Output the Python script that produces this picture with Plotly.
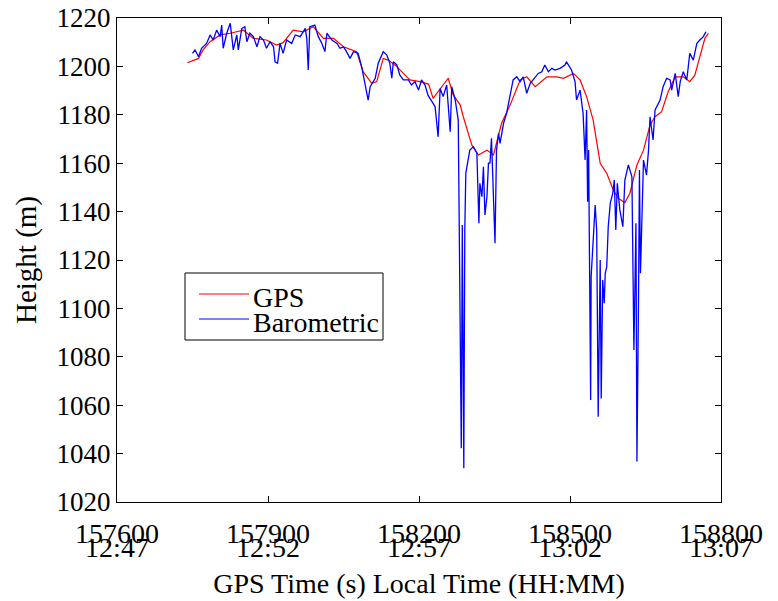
import plotly.graph_objects as go

# ---------------- data ----------------
x_range = [157600, 158800]
y_range = [1020, 1220]

tick_vals = [157600, 157900, 158200, 158500, 158800]
tick_gps = ["157600", "157900", "158200", "158500", "158800"]
tick_local = ["12:47", "12:52", "12:57", "13:02", "13:07"]
y_ticks = [1020, 1040, 1060, 1080, 1100, 1120, 1140, 1160, 1180, 1200, 1220]

gps_t = [157740, 157762, 157771, 157785, 157805, 157825, 157851, 157871, 157897, 157917,
         157930, 157950, 157970, 157990, 158010, 158030, 158050, 158076, 158089, 158106,
         158116, 158129, 158139, 158156, 158169, 158182, 158202, 158219, 158228, 158258,
         158268, 158282, 158288, 158305, 158318, 158335, 158348, 158364, 158381, 158401,
         158414, 158431, 158454, 158474, 158487, 158507, 158520, 158533, 158546, 158560,
         158573, 158586, 158596, 158609, 158619, 158633, 158646, 158659, 158669, 158682,
         158695, 158709, 158725, 158738, 158748, 158758, 158768, 158775]
gps_h = [1201.5, 1203.3, 1206.8, 1210.2, 1213, 1213.7, 1215, 1211.6, 1210.9, 1208.8,
         1209.8, 1215, 1214.3, 1216.4, 1211.6, 1211.6, 1208.1, 1206.1, 1197.8, 1193,
         1193.7, 1203.3, 1202.6, 1199.9, 1197.1, 1194.4, 1193.7, 1192.7, 1186.8, 1195.1,
         1188.2, 1184, 1179.2, 1167.5, 1163.4, 1165.4, 1163.4, 1176.5, 1184, 1194.4,
         1195.7, 1191.6, 1195.7, 1195.7, 1195.1, 1197.1, 1194.4, 1187.5, 1177.8, 1160,
         1155.8, 1148.9, 1145.5, 1143.7, 1147.6, 1159.3, 1165.4, 1175.8, 1179.2, 1181.3,
         1189.5, 1195.7, 1195.7, 1193.7, 1196.4, 1204, 1211.6, 1213.7]

baro_t = [157750, 157755, 157762, 157768, 157778, 157785, 157791, 157798, 157805, 157808,
          157811, 157818, 157825, 157831, 157838, 157841, 157848, 157854, 157858, 157864,
          157871, 157878, 157884, 157891, 157897, 157904, 157911, 157914, 157919, 157924,
          157930, 157937, 157947, 157954, 157964, 157974, 157977, 157980, 157983, 157993,
          158000, 158007, 158013, 158017, 158027, 158037, 158043, 158050, 158056, 158063,
          158070, 158079, 158086, 158093, 158099, 158103, 158113, 158119, 158129, 158136,
          158142, 158146, 158149, 158156, 158162, 158169, 158179, 158185, 158192, 158199,
          158205, 158212, 158218, 158228, 158232, 158238, 158242, 158248, 158255, 158262,
          158265, 158272, 158278, 158284, 158286, 158289, 158291, 158293, 158298, 158301,
          158308, 158315, 158319, 158321, 158325, 158328, 158331, 158335, 158338, 158341,
          158344, 158351, 158354, 158358, 158361, 158368, 158374, 158381, 158387, 158394,
          158401, 158407, 158414, 158421, 158427, 158437, 158444, 158450, 158457, 158464,
          158470, 158480, 158490, 158493, 158503, 158510, 158513, 158520, 158526, 158530,
          158533, 158535, 158537, 158541, 158542, 158546, 158550, 158553, 158556, 158560,
          158562, 158565, 158568, 158570, 158573, 158576, 158580, 158585, 158588, 158591,
          158594, 158599, 158605, 158609, 158616, 158623, 158627, 158631, 158633, 158636,
          158638, 158640, 158646, 158652, 158656, 158659, 158665, 158669, 158679, 158685,
          158692, 158699, 158702, 158709, 158715, 158719, 158725, 158732, 158738, 158745,
          158752, 158758, 158765, 158770]
baro_h = [1205.4, 1206.8, 1204, 1207.5, 1209.5, 1213, 1210.9, 1215, 1212.3, 1217.1,
          1207.5, 1213.7, 1217.8, 1206.8, 1213, 1206.8, 1215.7, 1216.4, 1210.2, 1213.7,
          1212.3, 1208.1, 1212.3, 1210.9, 1207.5, 1210.2, 1208.1, 1201.9, 1201.3, 1209.5,
          1205.4, 1210.9, 1209.5, 1213, 1212.3, 1215.7, 1211.6, 1198.5, 1216.4, 1217.1,
          1212.3, 1209.5, 1206.1, 1213.7, 1210.9, 1209.5, 1207.5, 1208.1, 1206.1, 1203.3,
          1206.1, 1205.4, 1199.9, 1191.6, 1186.1, 1191.6, 1195.1, 1201.3, 1206.1, 1204.7,
          1201.3, 1195.1, 1201.9, 1200.6, 1196.4, 1194.4, 1194.4, 1192.3, 1193.7, 1190.2,
          1194.4, 1192.3, 1188, 1184.7, 1183.3, 1170.9, 1190.9, 1187.5, 1192.3, 1173,
          1191.6, 1186.1, 1177.8, 1042.2, 1134.5, 1033.9, 1132.4, 1155.9, 1161.3, 1165.4,
          1166.8, 1164.1, 1135.2, 1151.7, 1146.2, 1158.5, 1138.6, 1146.2, 1160, 1160,
          1170.3, 1126.9, 1165.4, 1172.3, 1168.2, 1176.5, 1180.6, 1187.5, 1194.4, 1195.7,
          1193.7, 1195.7, 1188.9, 1193, 1194.4, 1197.1, 1197.8, 1200.6, 1197.8, 1199.2,
          1198.5, 1199.2, 1200.6, 1201.9, 1198.5, 1193.7, 1186.1, 1190.2, 1180.6, 1161.3,
          1182, 1144.1, 1165.4, 1062.1, 1113.1, 1126.9, 1142.7, 1132.4, 1055.2, 1120,
          1062.8, 1111.7, 1102.1, 1114.5, 1117.2, 1133.8, 1143.4, 1147.6, 1153, 1132.4,
          1151.7, 1140.7, 1133.8, 1153, 1159.3, 1154.4, 1082.8, 1135.2, 1036.7, 1100.7,
          1157.2, 1114.5, 1161.3, 1155.1, 1165.4, 1179.2, 1169.6, 1182, 1186.1, 1191.6,
          1195.1, 1194.4, 1190.2, 1197.1, 1187.5, 1193.7, 1197.8, 1194.4, 1205.4, 1202.6,
          1209.5, 1210.9, 1212.3, 1214.3]

series_names = ["GPS", "Barometric"]
series_colors = ["#ff0000", "#0000ff"]
x_title = "GPS Time (s) Local Time (HH:MM)"
y_title = "Height (m)"

FAM = "Liberation Serif"
Y_FONT = dict(family=FAM, size=27, color="#000000")
Y_TITLE_FONT = dict(family=FAM, size=29, color="#000000")
X_FONT = dict(family=FAM, size=28)
LEG_FONT = dict(family=FAM, size=28)


def serif(s):
    # colour and family also set on the text run itself
    return ("<span style='color:#000000;font-family:Liberation Serif,Times New Roman,serif'>"
            + s + "</span>")


# ---------------- figure ----------------
fig = go.Figure()
fig.add_trace(go.Scatter(x=gps_t, y=gps_h, mode="lines", name=series_names[0],
                         line=dict(color=series_colors[0], width=1.2), showlegend=False))
fig.add_trace(go.Scatter(x=baro_t, y=baro_h, mode="lines", name=series_names[1],
                         line=dict(color=series_colors[1], width=1.3), showlegend=False))
# helper trace so the secondary (local-time) axis is drawn
fig.add_trace(go.Scatter(x=[x_range[0]], y=[y_range[0]], xaxis="x2", mode="markers",
                         marker=dict(opacity=0), showlegend=False, hoverinfo="skip"))

axis_common = dict(showgrid=False, zeroline=False, showline=True, linecolor="black",
                   linewidth=1, ticks="inside", ticklen=6, tickwidth=1, tickcolor="black",
                   mirror="ticks")

fig.update_layout(
    width=778, height=601,
    margin=dict(l=117, r=57, t=18, b=99, autoexpand=False),
    paper_bgcolor="white", plot_bgcolor="white",
    xaxis=dict(range=x_range, tickvals=tick_vals, ticktext=[serif(s) for s in tick_gps],
               ticklabelstandoff=6, tickfont=X_FONT,
               title=dict(text=serif(x_title), font=X_FONT, standoff=25),
               **axis_common),
    xaxis2=dict(range=x_range, overlaying="x", anchor="y", side="bottom",
                tickvals=tick_vals, ticktext=[serif(s) for s in tick_local], ticks="",
                showline=False, showgrid=False, zeroline=False, ticklabelstandoff=26,
                tickfont=X_FONT),
    yaxis=dict(range=y_range, tickvals=y_ticks, ticktext=[serif(str(v)) for v in y_ticks],
               tickfont=Y_FONT,
               title=dict(text=serif(y_title), font=Y_TITLE_FONT, standoff=11),
               **axis_common),
)

# ---------------- legend box (MATLAB-style, tight rows) ----------------
def px(xp):
    return (xp - 117) / 604.0

def py(yp):
    return (502 - yp) / 484.0

fig.add_shape(type="rect", xref="paper", yref="paper", x0=px(185), x1=px(383),
              y0=py(340), y1=py(273), line=dict(color="black", width=1),
              fillcolor="white", layer="above")
legend_rows = [294, 319]
for name, color, yy in zip(series_names, series_colors, legend_rows):
    fig.add_shape(type="line", xref="paper", yref="paper", x0=px(199), x1=px(249),
                  y0=py(yy), y1=py(yy), line=dict(color=color, width=1.2), layer="above")
    fig.add_annotation(xref="paper", yref="paper", x=px(251), y=py(yy + 3),
                       text=serif(name), showarrow=False, xanchor="left", yanchor="middle",
                       font=LEG_FONT)

fig.write_html("out.html")
